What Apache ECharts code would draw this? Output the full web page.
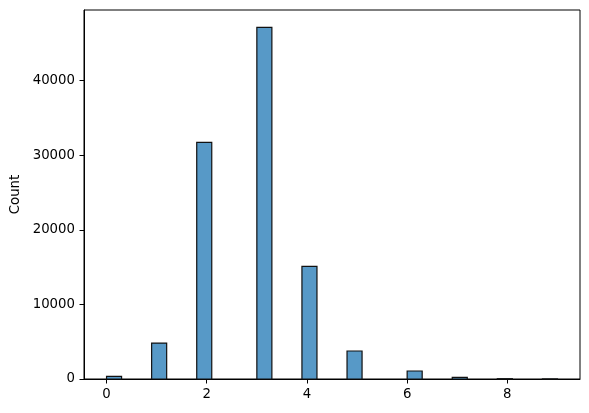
<!DOCTYPE html>
<html>
<head>
<meta charset="utf-8">
<script src="https://cdn.jsdelivr.net/npm/echarts@6/dist/echarts.min.js"></script>
<style>html,body{margin:0;padding:0;background:#fff}#c{width:589px;height:413px}</style>
</head>
<body>
<div id="c"></div>
<script>
// Histogram bins (30 bins of width 0.3 from 0 to 9)
const binLeft  = [0.0,0.3,0.6,0.9,1.2,1.5,1.8,2.1,2.4,2.7,3.0,3.3,3.6,3.9,4.2,4.5,4.8,5.1,5.4,5.7,6.0,6.3,6.6,6.9,7.2,7.5,7.8,8.1,8.4,8.7];
const binRight = [0.3,0.6,0.9,1.2,1.5,1.8,2.1,2.4,2.7,3.0,3.3,3.6,3.9,4.2,4.5,4.8,5.1,5.4,5.7,6.0,6.3,6.6,6.9,7.2,7.5,7.8,8.1,8.4,8.7,9.0];
const counts   = [360,0,0,4820,0,0,31720,0,0,0,47130,0,0,15100,0,0,3750,0,0,0,1070,0,0,230,0,0,40,0,0,10];
const xTicks = [0, 2, 4, 6, 8];
const yTicks = [0, 10000, 20000, 30000, 40000];
const yLabel = 'Count';

const data = binLeft.map((l, i) => [l, binRight[i], counts[i]]);

const chart = echarts.init(document.getElementById('c'), null, {renderer: 'canvas'});
const font = 'DejaVu Sans';
chart.setOption({
  animation: false,
  backgroundColor: '#fff',
  grid: {left: 84, right: 9, top: 10, bottom: 34, show: true, borderColor: '#000', borderWidth: 1, backgroundColor: 'transparent'},
  xAxis: {
    type: 'value', min: -0.45, max: 9.45,
    axisLine: {show: true, onZero: false, lineStyle: {color: '#000', width: 1}},
    axisTick: {show: true, customValues: xTicks, length: 4.5, lineStyle: {color: '#000'}},
    axisLabel: {customValues: xTicks, color: '#000', fontFamily: font, fontSize: 13.3, margin: 9, formatter: v => String(v)},
    splitLine: {show: false}
  },
  yAxis: {
    type: 'value', min: 0, max: 49455,
    name: yLabel, nameLocation: 'middle', nameGap: 59,
    nameTextStyle: {color: '#000', fontFamily: font, fontSize: 13.3},
    axisLine: {show: true, onZero: false, lineStyle: {color: '#000', width: 1}},
    axisTick: {show: true, customValues: yTicks, length: 4.5, lineStyle: {color: '#000'}},
    axisLabel: {customValues: yTicks, color: '#000', fontFamily: font, fontSize: 13.3, margin: 9, formatter: v => String(v)},
    splitLine: {show: false}
  },
  series: [{
    type: 'custom',
    data: data,
    encode: {x: [0, 1], y: 2},
    renderItem: function (params, api) {
      const h = api.value(2);
      if (h <= 0) return null;
      const p0 = api.coord([api.value(0), 0]);
      const p1 = api.coord([api.value(1), h]);
      return {
        type: 'rect',
        shape: {x: p0[0], y: p1[1], width: p1[0] - p0[0], height: p0[1] - p1[1]},
        style: {fill: 'rgb(87,153,199)', stroke: '#111', lineWidth: 1.2}
      };
    }
  }]
});
</script>
</body>
</html>
